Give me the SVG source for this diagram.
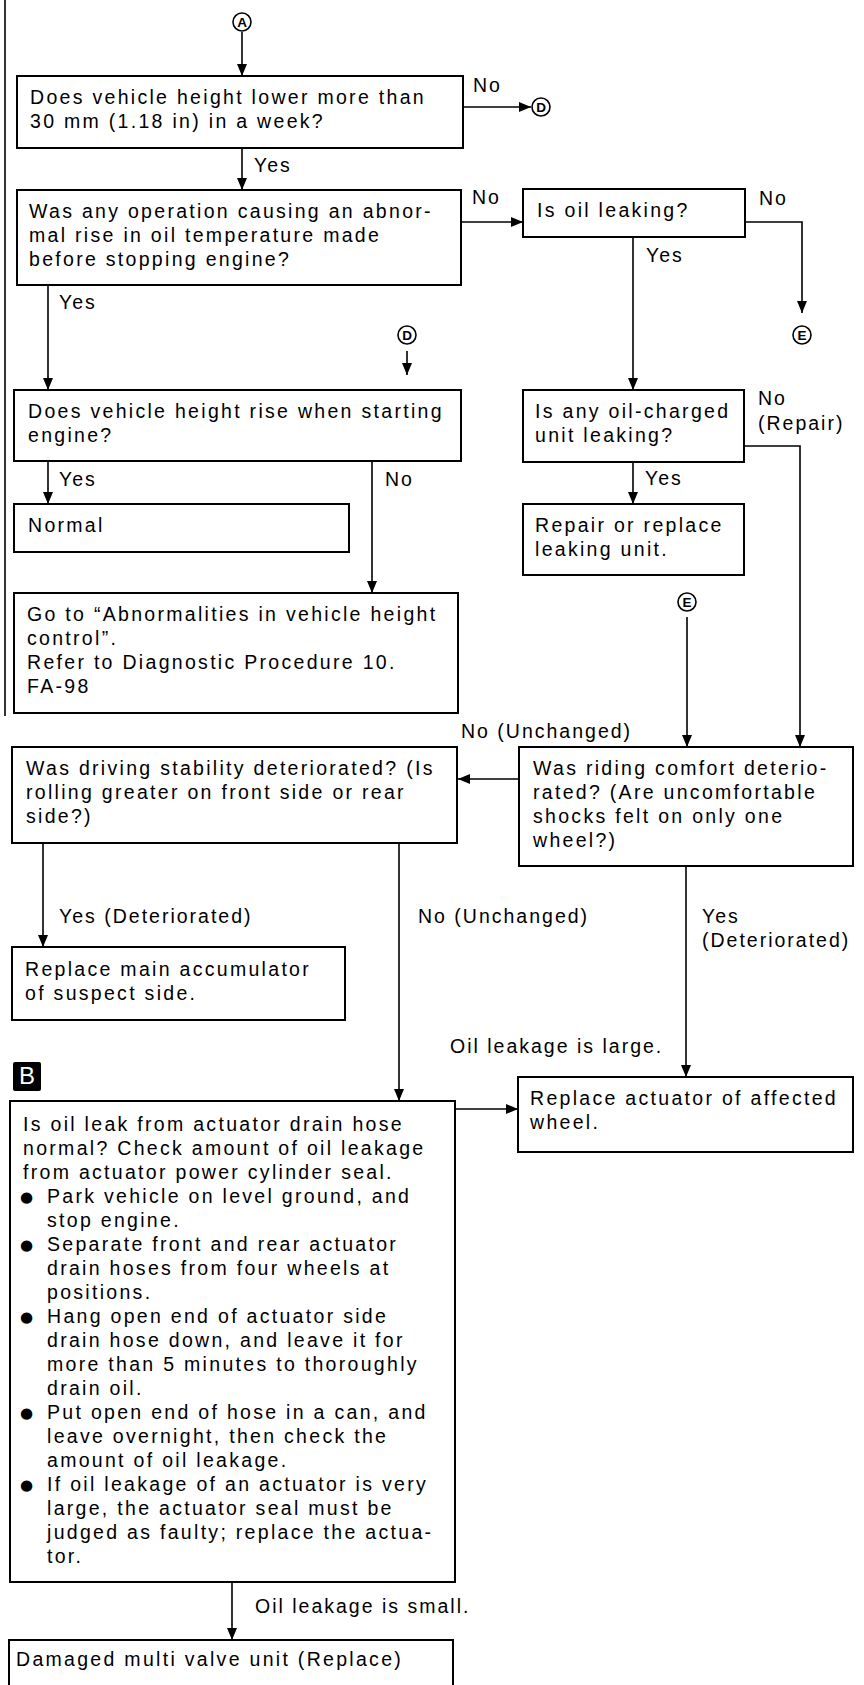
<svg xmlns="http://www.w3.org/2000/svg" width="864" height="1685" viewBox="0 0 864 1685">
  <style>
    .box { fill: #ffffff; stroke: #000000; stroke-width: 2; }
    .t { font-family: "Liberation Sans", Arial, sans-serif; font-size: 19.5px; letter-spacing: 2.3px; fill: #000000; }
    .lbl { font-family: "Liberation Sans", Arial, sans-serif; font-size: 19.5px; letter-spacing: 2px; fill: #000000; }
    .con { fill: none; stroke: #000000; stroke-width: 1.6; }
    .circ { fill: #ffffff; stroke: #000000; stroke-width: 1.6; }
    .ct { font-family: "Liberation Sans", Arial, sans-serif; font-size: 13.5px; font-weight: bold; text-anchor: middle; fill: #000000; }
    .bul { font-family: "DejaVu Sans", sans-serif; font-size: 15px; fill: #000000; }
  </style>
  <defs>
    <marker id="arr" markerWidth="12" markerHeight="10" refX="12" refY="5" orient="auto" markerUnits="userSpaceOnUse">
      <path d="M0,0 L12,5 L0,10 z" fill="#000000"/>
    </marker>
  </defs>

  <rect width="864" height="1685" fill="#ffffff"/>

  <!-- page margin rule -->
  <line x1="5" y1="0" x2="5" y2="716" stroke="#000000" stroke-width="1.6"/>

  <!-- connectors -->
  <g id="connectors">
    <line class="con" x1="242" y1="32" x2="242" y2="76" marker-end="url(#arr)"/>
    <line class="con" x1="463" y1="107" x2="531" y2="107" marker-end="url(#arr)"/>
    <text class="lbl" x="473" y="92">No</text>
    <line class="con" x1="242" y1="148" x2="242" y2="190" marker-end="url(#arr)"/>
    <text class="lbl" x="254" y="172">Yes</text>
    <line class="con" x1="461" y1="222" x2="523" y2="222" marker-end="url(#arr)"/>
    <text class="lbl" x="472" y="204">No</text>
    <polyline class="con" points="745,222 802,222 802,313" marker-end="url(#arr)"/>
    <text class="lbl" x="759" y="205">No</text>
    <line class="con" x1="633" y1="237" x2="633" y2="390" marker-end="url(#arr)"/>
    <text class="lbl" x="646" y="262">Yes</text>
    <line class="con" x1="48" y1="285" x2="48" y2="390" marker-end="url(#arr)"/>
    <text class="lbl" x="59" y="309">Yes</text>
    <line class="con" x1="407" y1="351" x2="407" y2="375" marker-end="url(#arr)"/>
    <line class="con" x1="633" y1="462" x2="633" y2="504" marker-end="url(#arr)"/>
    <text class="lbl" x="645" y="485">Yes</text>
    <polyline class="con" points="744,446 800,446 800,747" marker-end="url(#arr)"/>
    <text class="lbl" x="758" y="405">No</text>
    <text class="lbl" x="758" y="430">(Repair)</text>
    <line class="con" x1="48" y1="461" x2="48" y2="504" marker-end="url(#arr)"/>
    <text class="lbl" x="59" y="486">Yes</text>
    <line class="con" x1="372" y1="461" x2="372" y2="593" marker-end="url(#arr)"/>
    <text class="lbl" x="385" y="486">No</text>
    <line class="con" x1="687" y1="617" x2="687" y2="747" marker-end="url(#arr)"/>
    <line class="con" x1="519" y1="779" x2="458" y2="779" marker-end="url(#arr)"/>
    <text class="lbl" x="461" y="738">No (Unchanged)</text>
    <line class="con" x1="43" y1="843" x2="43" y2="947" marker-end="url(#arr)"/>
    <text class="lbl" x="59" y="923">Yes (Deteriorated)</text>
    <line class="con" x1="399" y1="843" x2="399" y2="1101" marker-end="url(#arr)"/>
    <text class="lbl" x="418" y="923">No (Unchanged)</text>
    <line class="con" x1="686" y1="866" x2="686" y2="1077" marker-end="url(#arr)"/>
    <text class="lbl" x="702" y="923">Yes</text>
    <text class="lbl" x="702" y="947">(Deteriorated)</text>
    <text class="lbl" x="450" y="1053">Oil leakage is large.</text>
    <line class="con" x1="455" y1="1109" x2="518" y2="1109" marker-end="url(#arr)"/>
    <line class="con" x1="232" y1="1582" x2="232" y2="1640" marker-end="url(#arr)"/>
    <text class="lbl" x="255" y="1613">Oil leakage is small.</text>
  </g>

  <!-- off-page connectors -->
  <g id="conn-A">
    <circle class="circ" cx="242" cy="22" r="9"/>
    <text class="ct" x="242" y="27">A</text>
  </g>
  <g id="conn-D-out">
    <circle class="circ" cx="541" cy="107" r="9"/>
    <text class="ct" x="541" y="112">D</text>
  </g>
  <g id="conn-E-out">
    <circle class="circ" cx="802" cy="335" r="9"/>
    <text class="ct" x="802" y="340">E</text>
  </g>
  <g id="conn-D-in">
    <circle class="circ" cx="407" cy="335" r="9"/>
    <text class="ct" x="407" y="340">D</text>
  </g>
  <g id="conn-E-in">
    <circle class="circ" cx="687" cy="602" r="9"/>
    <text class="ct" x="687" y="607">E</text>
  </g>

  <!-- decision and action boxes -->
  <g id="n-height-lower">
    <rect class="box" x="17" y="76" width="446" height="72"/>
    <text class="t" x="30" y="104">Does vehicle height lower more than</text>
    <text class="t" x="30" y="128">30 mm (1.18 in) in a week?</text>
  </g>

  <g id="n-abnormal-rise">
    <rect class="box" x="17" y="190" width="444" height="95"/>
    <text class="t" x="29" y="218">Was any operation causing an abnor-</text>
    <text class="t" x="29" y="242">mal rise in oil temperature made</text>
    <text class="t" x="29" y="266">before stopping engine?</text>
  </g>

  <g id="n-oil-leaking">
    <rect class="box" x="523" y="189" width="222" height="48"/>
    <text class="t" x="537" y="217">Is oil leaking?</text>
  </g>

  <g id="n-unit-leaking">
    <rect class="box" x="523" y="390" width="221" height="72"/>
    <text class="t" x="535" y="418">Is any oil-charged</text>
    <text class="t" x="535" y="442">unit leaking?</text>
  </g>

  <g id="n-repair-unit">
    <rect class="box" x="523" y="504" width="221" height="71"/>
    <text class="t" x="535" y="532">Repair or replace</text>
    <text class="t" x="535" y="556">leaking unit.</text>
  </g>

  <g id="n-height-rise">
    <rect class="box" x="14" y="390" width="447" height="71"/>
    <text class="t" x="28" y="418">Does vehicle height rise when starting</text>
    <text class="t" x="28" y="442">engine?</text>
  </g>

  <g id="n-normal">
    <rect class="box" x="14" y="504" width="335" height="48"/>
    <text class="t" x="28" y="532">Normal</text>
  </g>

  <g id="n-goto-height-control">
    <rect class="box" x="14" y="593" width="444" height="120"/>
    <text class="t" x="27" y="621">Go to “Abnormalities in vehicle height</text>
    <text class="t" x="27" y="645">control”.</text>
    <text class="t" x="27" y="669">Refer to Diagnostic Procedure 10.</text>
    <text class="t" x="27" y="693">FA-98</text>
  </g>

  <g id="n-driving-stability">
    <rect class="box" x="12" y="747" width="445" height="96"/>
    <text class="t" x="26" y="775">Was driving stability deteriorated? (Is</text>
    <text class="t" x="26" y="799">rolling greater on front side or rear</text>
    <text class="t" x="26" y="823">side?)</text>
  </g>

  <g id="n-riding-comfort">
    <rect class="box" x="519" y="747" width="334" height="119"/>
    <text class="t" x="533" y="775">Was riding comfort deterio-</text>
    <text class="t" x="533" y="799">rated? (Are uncomfortable</text>
    <text class="t" x="533" y="823">shocks felt on only one</text>
    <text class="t" x="533" y="847">wheel?)</text>
  </g>

  <g id="n-replace-accumulator">
    <rect class="box" x="12" y="947" width="333" height="73"/>
    <text class="t" x="25" y="976">Replace main accumulator</text>
    <text class="t" x="25" y="1000">of suspect side.</text>
  </g>

  <g id="n-replace-actuator">
    <rect class="box" x="518" y="1077" width="335" height="75"/>
    <text class="t" x="530" y="1105">Replace actuator of affected</text>
    <text class="t" x="530" y="1129">wheel.</text>
  </g>

  <g id="tag-B">
    <rect x="13" y="1062" width="28" height="29" rx="2" fill="#000000"/>
    <text x="27" y="1084" font-family="Liberation Sans, Arial, sans-serif" font-size="24" text-anchor="middle" fill="#ffffff">B</text>
  </g>

  <g id="n-drain-hose-check">
    <rect class="box" x="10" y="1101" width="445" height="481"/>
    <text class="t" x="23" y="1131">Is oil leak from actuator drain hose</text>
    <text class="t" x="23" y="1155">normal? Check amount of oil leakage</text>
    <text class="t" x="23" y="1179">from actuator power cylinder seal.</text>
    <text class="bul" x="20" y="1202">●</text>
    <text class="t" x="47" y="1203">Park vehicle on level ground, and</text>
    <text class="t" x="47" y="1227">stop engine.</text>
    <text class="bul" x="20" y="1250">●</text>
    <text class="t" x="47" y="1251">Separate front and rear actuator</text>
    <text class="t" x="47" y="1275">drain hoses from four wheels at</text>
    <text class="t" x="47" y="1299">positions.</text>
    <text class="bul" x="20" y="1322">●</text>
    <text class="t" x="47" y="1323">Hang open end of actuator side</text>
    <text class="t" x="47" y="1347">drain hose down, and leave it for</text>
    <text class="t" x="47" y="1371">more than 5 minutes to thoroughly</text>
    <text class="t" x="47" y="1395">drain oil.</text>
    <text class="bul" x="20" y="1418">●</text>
    <text class="t" x="47" y="1419">Put open end of hose in a can, and</text>
    <text class="t" x="47" y="1443">leave overnight, then check the</text>
    <text class="t" x="47" y="1467">amount of oil leakage.</text>
    <text class="bul" x="20" y="1490">●</text>
    <text class="t" x="47" y="1491">If oil leakage of an actuator is very</text>
    <text class="t" x="47" y="1515">large, the actuator seal must be</text>
    <text class="t" x="47" y="1539">judged as faulty; replace the actua-</text>
    <text class="t" x="47" y="1563">tor.</text>
  </g>

  <g id="n-multi-valve">
    <rect class="box" x="9" y="1640" width="444" height="60"/>
    <text class="t" x="16" y="1666">Damaged multi valve unit (Replace)</text>
  </g>
</svg>
